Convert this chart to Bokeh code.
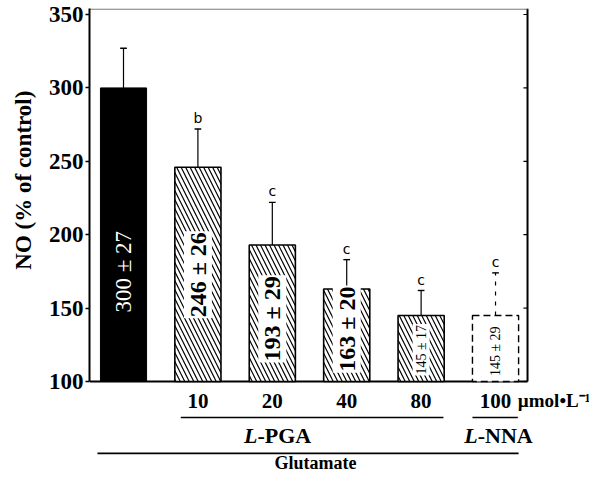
from bokeh.plotting import figure
from bokeh.models import Range1d, FixedTicker, ColumnDataSource
from bokeh.core.properties import value
from bokeh.embed import file_html
from bokeh.resources import INLINE

# ---- data ----
xs = [0, 1, 2, 3, 4, 5]
values = [300, 246, 193, 163, 145, 145]
errors = [27, 26, 29, 20, 17, 29]
letters = ["", "b", "c", "c", "c", "c"]
bar_labels = ["300 ± 27", "246 ± 26", "193 ± 29", "163 ± 20", "145 ± 17", "145 ± 29"]
conc = ["", "10", "20", "40", "80", "100"]
yticks = [100, 150, 200, 250, 300, 350]
base = 100

# layout only: where each rotated bar label starts (its lower end)
label_start = [147, 143, 113, 106, 104, 103]

SERIF = value("Liberation Serif")
SANS = value("DejaVu Sans")
NB = "\u00a0"

x_left, x_right = -0.457, 5.43
y_top = 354.1
p = figure(width=589, height=472, x_range=Range1d(x_left, 6.263), y_range=Range1d(38.0, y_top),
           x_axis_type=None, output_backend="svg", toolbar_location=None,
           min_border_left=89, min_border_right=0, min_border_top=8, min_border_bottom=0,
           outline_line_color=None)
p.ygrid.visible = False

ax = p.yaxis[0]
ax.ticker = FixedTicker(ticks=yticks)
ax.bounds = (100, y_top)
ax.axis_line_width = 2
ax.major_tick_out = 4
ax.major_tick_in = 0
ax.major_tick_line_width = 1.5
ax.minor_tick_line_color = None
ax.major_label_standoff = 2
ax.major_label_text_font = "Liberation Serif"
ax.major_label_text_font_style = "bold"
ax.major_label_text_font_size = "23px"
ax.major_label_text_color = "black"
ax.axis_label = NB * 21 + "NO (% of control)"
ax.axis_label_text_font = "Liberation Serif"
ax.axis_label_text_font_style = "bold"
ax.axis_label_text_font_size = "23px"
ax.axis_label_text_color = "black"
ax.axis_label_standoff = 10

# frame lines
p.segment(x0=[x_left], y0=[100], x1=[x_right], y1=[100], line_color="black", line_width=2)
p.segment(x0=[x_right], y0=[100], x1=[x_right], y1=[y_top], line_color="black", line_width=2)
p.segment(x0=[x_left], y0=[y_top - 0.4], x1=[x_right], y1=[y_top - 0.4], line_color="#555555", line_width=1)
p.segment(x0=[x_right - 0.055] * len(yticks), y0=yticks, x1=[x_right] * len(yticks), y1=yticks,
          line_color="black", line_width=1.2)

# bars
w = 0.62
p.vbar(x=xs[:1], top=values[:1], bottom=base, width=w, fill_color="black", line_color="black")
p.vbar(x=xs[1:5], top=values[1:5], bottom=base, width=w, fill_color="white", line_color="black",
       line_width=1.6, hatch_pattern="\\", hatch_color="black", hatch_scale=9, hatch_weight=1.2)
p.vbar(x=xs[5:], top=values[5:], bottom=base, width=w, fill_color="white", line_color="black",
       line_width=1.4, line_dash="7 4")

# error bars
tops = [v + e for v, e in zip(values, errors)]
cw = 0.045
p.segment(x0=xs[:5], y0=values[:5], x1=xs[:5], y1=tops[:5], line_color="black", line_width=1.2)
p.segment(x0=xs[5:], y0=values[5:], x1=xs[5:], y1=tops[5:], line_color="black", line_width=1.2,
          line_dash="4 6")
p.segment(x0=[x - cw for x in xs], y0=tops, x1=[x + cw for x in xs], y1=tops,
          line_color="black", line_width=1.4)

# significance letters
p.text(x=xs[1:], y=[t + 2 for t in tops[1:]], text=letters[1:], text_font=SANS,
       text_font_size="14px", text_align="center", text_baseline="bottom", text_color="black")

# labels inside bars (rotated, reading upward)
src_big = ColumnDataSource(dict(x=xs[1:4], y=label_start[1:4], t=bar_labels[1:4]))
src_small = ColumnDataSource(dict(x=xs[4:], y=label_start[4:], t=bar_labels[4:]))
p.text(x=xs[:1], y=label_start[:1], text=bar_labels[:1], angle=1.5708, text_font=SERIF,
       text_font_size="23px", text_color="white", text_align="left", text_baseline="middle")
p.text(x="x", y="y", text="t", source=src_big, angle=1.5708, text_font=SERIF,
       text_font_style="bold", text_font_size="24px", text_color="black", text_align="left",
       text_baseline="middle", background_fill_color="white", padding=1)
p.text(x="x", y="y", text="t", source=src_small, angle=1.5708, text_font=SERIF,
       text_font_size="14px", text_color="black", text_align="left",
       text_baseline="middle", background_fill_color="white", padding=1)

# concentration labels
p.text(x=xs[1:], y=[87] * 5, text=conc[1:], text_font=SERIF, text_font_style="bold",
       text_font_size="21px", text_align="center", text_baseline="middle")
p.text(x=[5.3], y=[87], text=["µmol•L⁻¹"], text_font=SERIF, text_font_style="bold",
       text_font_size="19px", text_align="left", text_baseline="middle")

# group lines and names
p.segment(x0=[0.77, 4.69, -0.35], y0=[75.5, 75.5, 51.0], x1=[4.3, 5.3, 5.31], y1=[75.5, 75.5, 51.0],
          line_color="black", line_width=1.6)
p.text(x=[1.8, 4.76], y=[63.2, 63.2], text=["L", "L"], text_font=SERIF, text_font_style="bold italic",
       text_font_size="22px", text_align="right", text_baseline="middle")
p.text(x=[1.8, 4.76], y=[63.2, 63.2], text=["-PGA", "-NNA"], text_font=SERIF, text_font_style="bold",
       text_font_size="22px", text_align="left", text_baseline="middle")
p.text(x=[2.58], y=[44.2], text=["Glutamate"], text_font=SERIF, text_font_style="bold",
       text_font_size="18px", text_align="center", text_baseline="middle")

open("out.html", "w").write(file_html(p, INLINE))
